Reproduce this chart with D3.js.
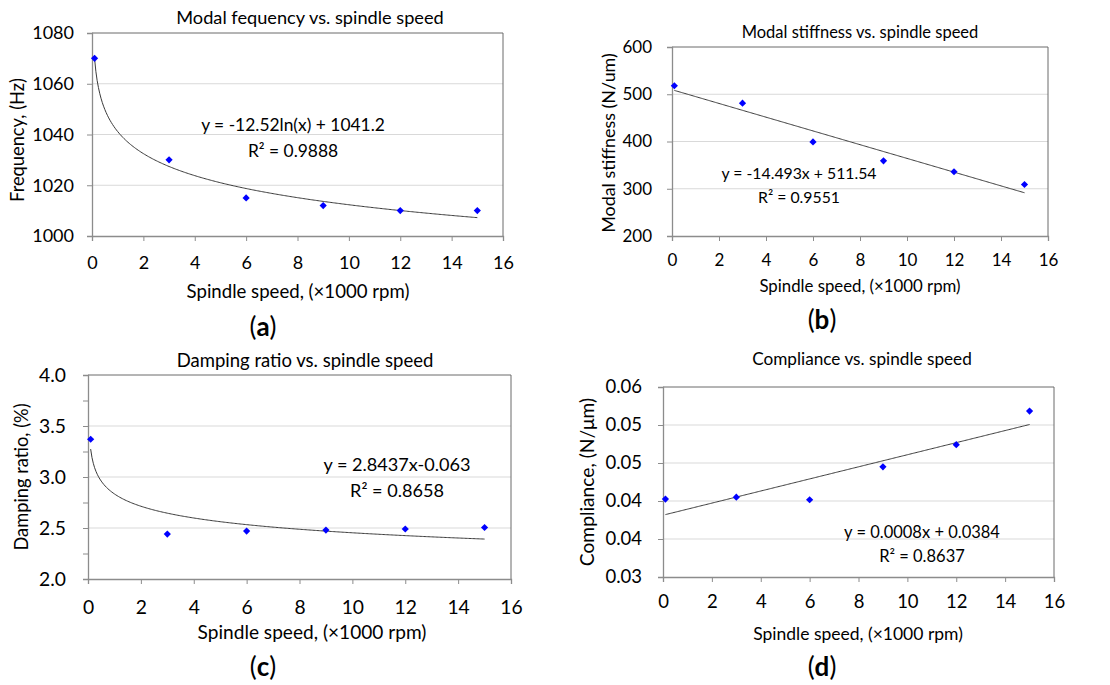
<!DOCTYPE html>
<html>
<head>
<meta charset="utf-8">
<script src="https://cdn.jsdelivr.net/npm/d3@7"></script>
<style>
  body { margin: 0; background: #fff; }
  text { font-family: Lato, "Open Sans", sans-serif; fill: #000; }
</style>
</head>
<body>
<svg id="chart" width="1110" height="685"></svg>
<script>
// spindle speed (x1000 rpm), shared by all four panels
var speed = [0.1, 3, 6, 9, 12, 15];

var frequency = [1070, 1030, 1015, 1012, 1010, 1010];
var stiffness = [518, 481, 399, 359, 336, 309];
var damping = [3.37, 2.44, 2.47, 2.48, 2.49, 2.505];
var compliance = [0.0423, 0.0426, 0.0422, 0.0474, 0.0509, 0.0562];

var xTicks = [0, 2, 4, 6, 8, 10, 12, 14, 16];
var freqTicks = [1000, 1020, 1040, 1060, 1080];
var stiffTicks = [200, 300, 400, 500, 600];
var dampTicks = [2.0, 2.5, 3.0, 3.5, 4.0];
var dampMinor = [2.25, 2.75, 3.25, 3.75];
var complTicks = [0.03, 0.036, 0.042, 0.048, 0.054, 0.06];

var xTitle = 'Spindle speed, (\u00d71000 rpm)';

// fs = font sizes: tick labels, axis titles (x, y), chart title, equation
var panels = [
  {
    tag: 'a', values: frequency, fit: 'log', domain: [1000, 1080], ticks: freqTicks, fmt: d3.format('d'),
    title: 'Modal fequency vs. spindle speed', yTitle: 'Frequency, (Hz)',
    eq: ['y = -12.52ln(x) + 1041.2', 'R\u00b2 = 0.9888'],
    box: {x0: 92, x1: 503, y0: 33, y1: 236}, yLabX: 74,
    fs: {tick: 18, xt: 18.6, yt: 18.3, title: 18.2, eq: 17.4},
    titleAt: [310, 18], xLabY: 263, xTitleAt: [298, 291], yTitleAt: [18, 140], tagAt: [263, 327],
    eqAt: [[293, 125], [293, 151]]
  },
  {
    tag: 'b', values: stiffness, fit: 'linear', domain: [200, 600], ticks: stiffTicks, fmt: d3.format('d'),
    title: 'Modal stiffness vs. spindle speed', yTitle: 'Modal stiffness (N/um)',
    eq: ['y = -14.493x + 511.54', 'R\u00b2 = 0.9551'],
    box: {x0: 672, x1: 1048, y0: 47, y1: 236}, yLabX: 652,
    fs: {tick: 17, xt: 16.8, yt: 17.9, title: 16.5, eq: 15.8},
    titleAt: [860, 32], xLabY: 260, xTitleAt: [860, 286], yTitleAt: [609, 143], tagAt: [822, 320],
    eqAt: [[799, 173], [799, 197]]
  },
  {
    tag: 'c', values: damping, fit: 'power', domain: [2, 4], ticks: dampTicks, minor: dampMinor, fmt: d3.format('.1f'),
    title: 'Damping ratio vs. spindle speed', yTitle: 'Damping ratio, (%)',
    eq: ['y = 2.8437x-0.063', 'R\u00b2 = 0.8658'],
    box: {x0: 88, x1: 511, y0: 375, y1: 579}, yLabX: 66,
    fs: {tick: 19.3, xt: 19.1, yt: 18.3, title: 18.5, eq: 18.1},
    titleAt: [305, 361], xLabY: 607, xTitleAt: [312, 632], yTitleAt: [22, 477], tagAt: [263, 667],
    eqAt: [[397, 465], [397, 491]]
  },
  {
    tag: 'd', values: compliance, fit: 'linear', domain: [0.03, 0.06], ticks: complTicks, fmt: d3.format('.2f'),
    title: 'Compliance vs. spindle speed', yTitle: 'Compliance, (N/\u03bcm)',
    eq: ['y = 0.0008x + 0.0384', 'R\u00b2 = 0.8637'],
    box: {x0: 663, x1: 1054, y0: 387, y1: 577}, yLabX: 642,
    fs: {tick: 18.5, xt: 17.5, yt: 19.2, title: 17.2, eq: 16.5},
    titleAt: [862, 359], xLabY: 602, xTitleAt: [858, 634], yTitleAt: [587, 482], tagAt: [822, 667],
    eqAt: [[922, 532], [922, 556]]
  }
];

// least squares on (u, v)
function lsq(u, v) {
  var mu = d3.mean(u), mv = d3.mean(v);
  var sxy = d3.sum(u, function (d, i) { return (d - mu) * (v[i] - mv); });
  var sxx = d3.sum(u, function (d) { return (d - mu) * (d - mu); });
  var b = sxy / sxx;
  return {a: mv - b * mu, b: b};
}

function trend(kind, xs, ys) {
  if (kind === 'linear') {
    var l = lsq(xs, ys);
    return function (x) { return l.a + l.b * x; };
  }
  if (kind === 'log') {
    var g = lsq(xs.map(Math.log), ys);
    return function (x) { return g.a + g.b * Math.log(x); };
  }
  var p = lsq(xs.map(Math.log), ys.map(Math.log));
  return function (x) { return Math.exp(p.a) * Math.pow(x, p.b); };
}

var svg = d3.select('#chart');

panels.forEach(function (p) {
  var b = p.box;
  var x = d3.scaleLinear().domain([0, 16]).range([b.x0, b.x1]);
  var y = d3.scaleLinear().domain(p.domain).range([b.y1, b.y0]);
  var g = svg.append('g');

  // gridlines
  g.selectAll('.grid').data(p.ticks.slice(1, -1)).enter().append('line')
    .attr('x1', b.x0).attr('x2', b.x1)
    .attr('y1', function (d) { return y(d); }).attr('y2', function (d) { return y(d); })
    .attr('stroke', '#d9d9d9').attr('stroke-width', 1);

  // plot frame, top and right
  g.append('path')
    .attr('d', 'M' + b.x0 + ',' + b.y0 + 'H' + b.x1 + 'V' + b.y1)
    .attr('fill', 'none').attr('stroke', '#6b6b6b').attr('stroke-width', 1);

  var xAxis = g.append('g').attr('transform', 'translate(0,' + b.y1 + ')')
    .call(d3.axisBottom(x).tickValues(xTicks).tickSize(5).tickFormat(d3.format('d')));
  xAxis.selectAll('text').attr('y', p.xLabY - b.y1).attr('dy', '0.35em');

  var yAxis = g.append('g').attr('transform', 'translate(' + b.x0 + ',0)')
    .call(d3.axisLeft(y).tickValues(p.ticks).tickSize(5).tickFormat(p.fmt));
  yAxis.selectAll('text').attr('x', p.yLabX - b.x0);

  if (p.minor) {
    g.append('g').attr('transform', 'translate(' + b.x0 + ',0)')
      .call(d3.axisLeft(y).tickValues(p.minor).tickSize(5).tickFormat(''))
      .select('.domain').remove();
  }

  g.selectAll('.domain').attr('stroke', '#8c8c8c').attr('stroke-width', 1.3);
  g.selectAll('.tick line').attr('stroke', '#8c8c8c');
  g.selectAll('.tick text').style('font-size', p.fs.tick + 'px').attr('fill', '#000');

  // trend line
  var f = trend(p.fit, speed, p.values);
  var xs = d3.range(speed[0], speed[speed.length - 1] + 0.001, 0.05);
  g.append('path')
    .datum(xs)
    .attr('d', d3.line().x(function (d) { return x(d); }).y(function (d) { return y(f(d)); }))
    .attr('fill', 'none').attr('stroke', '#3a3a3a').attr('stroke-width', 1);

  // markers: square turned 45 degrees
  g.selectAll('.pt').data(p.values).enter().append('path')
    .attr('d', d3.symbol().type(d3.symbolSquare).size(26))
    .attr('transform', function (d, i) { return 'translate(' + x(speed[i]) + ',' + y(d) + ') rotate(45)'; })
    .attr('fill', '#0000ff');

  // texts
  g.append('text').attr('x', p.titleAt[0]).attr('y', p.titleAt[1]).attr('dy', '0.35em')
    .attr('text-anchor', 'middle').style('font-size', p.fs.title + 'px').text(p.title);
  g.append('text').attr('x', p.xTitleAt[0]).attr('y', p.xTitleAt[1]).attr('dy', '0.35em')
    .attr('text-anchor', 'middle').style('font-size', p.fs.xt + 'px').text(xTitle);
  g.append('text')
    .attr('transform', 'translate(' + p.yTitleAt[0] + ',' + p.yTitleAt[1] + ') rotate(-90)')
    .attr('dy', '0.35em').attr('text-anchor', 'middle').style('font-size', p.fs.yt + 'px').text(p.yTitle);

  p.eq.forEach(function (t, i) {
    g.append('text').attr('x', p.eqAt[i][0]).attr('y', p.eqAt[i][1]).attr('dy', '0.35em')
      .attr('text-anchor', 'middle').style('font-size', p.fs.eq + 'px').text(t);
  });

  var tag = g.append('text').attr('x', p.tagAt[0]).attr('y', p.tagAt[1]).attr('dy', '0.35em')
    .attr('text-anchor', 'middle').style('font-size', '26px');
  tag.append('tspan').text('(');
  tag.append('tspan').style('font-weight', 'bold').text(p.tag);
  tag.append('tspan').text(')');
});
</script>
</body>
</html>
